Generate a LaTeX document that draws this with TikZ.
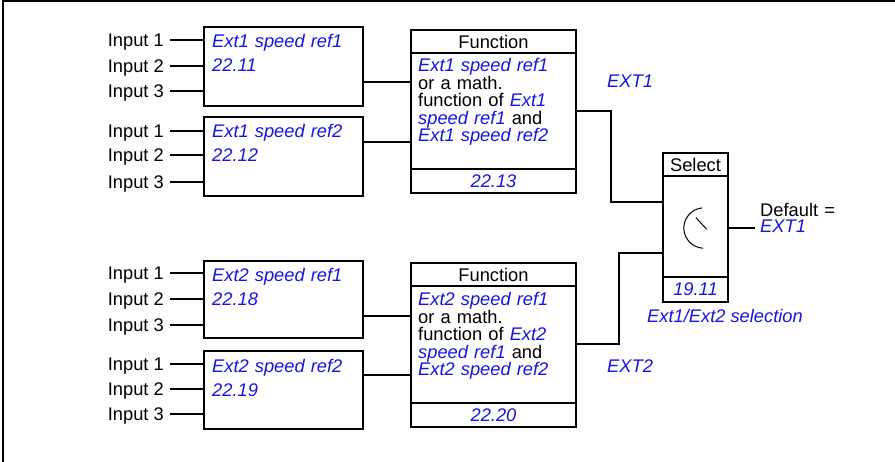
\documentclass[tikz,border=0pt]{standalone}
\usepackage{fontspec}
\setmainfont{Liberation Sans}
\definecolor{extblue}{RGB}{20,20,235}
\newcommand{\bluetxt}[1]{{\color{extblue}\itshape #1}}
\newcommand{\fs}{\fontsize{18.3}{22}\selectfont}
\begin{document}
\begin{tikzpicture}[x=1pt,y=-1pt,
  font=\fs,
  blk/.style={draw, line width=2pt, inner sep=0pt, minimum width=159pt},
  fblk/.style={draw, line width=2pt, inner sep=0pt, minimum width=165pt},
  sblk/.style={draw, line width=2pt, inner sep=0pt, minimum width=65pt},
  num/.style={text=extblue, font=\fs\itshape},
  wire/.style={line width=2pt},
  thinline/.style={line width=1pt},
  lbl/.style={anchor=east, inner xsep=6pt, inner ysep=0pt, text height=13pt, text depth=0pt},
  btxt/.style={anchor=base west, inner sep=0pt, text width=148pt, align=left, font=\fontsize{18.3}{24}\selectfont},
  ftxt/.style={anchor=base west, inner sep=0pt, text width=155pt, align=left, font=\fontsize{18.3}{17.4}\selectfont},
  tag/.style={anchor=base west, inner sep=0pt, text=extblue, font=\fs\itshape}]
\useasboundingbox (0,0) rectangle (895,462);
% frame
\draw[line width=1.3pt] (3,462) -- (3,1) -- (895,1);

% ---------- reference boxes ----------
\node[blk, minimum height=79pt] (b1) at (283.5,66.5) {};
\node[blk, minimum height=79pt] (b2) at (283.5,156.5) {};
\node[blk, minimum height=77pt] (b3) at (283.5,300) {};
\node[blk, minimum height=78pt] (b4) at (283.5,390) {};
\node[btxt] (t1) at (212,48) {\bluetxt{Ext1 speed ref1\\22.11}};
\node[btxt] (t2) at (212,138) {\bluetxt{Ext1 speed ref2\\22.12}};
\node[btxt] (t3) at (212,282) {\bluetxt{Ext2 speed ref1\\22.18}};
\node[btxt] (t4) at (212,373) {\bluetxt{Ext2 speed ref2\\22.19}};

% ---------- inputs ----------
\node[lbl] (i11) at (170,40) {Input 1};
\node[lbl] (i12) at (170,66) {Input 2};
\node[lbl] (i13) at (170,91) {Input 3};
\node[lbl] (i21) at (170,131) {Input 1};
\node[lbl] (i22) at (170,155) {Input 2};
\node[lbl] (i23) at (170,182) {Input 3};
\node[lbl] (i31) at (170,273) {Input 1};
\node[lbl] (i32) at (170,299) {Input 2};
\node[lbl] (i33) at (170,325) {Input 3};
\node[lbl] (i41) at (170,364) {Input 1};
\node[lbl] (i42) at (170,389) {Input 2};
\node[lbl] (i43) at (170,414) {Input 3};
\foreach \i/\b in {i11/b1,i12/b1,i13/b1,i21/b2,i22/b2,i23/b2,i31/b3,i32/b3,i33/b3,i41/b4,i42/b4,i43/b4}
  \draw[wire] (\i.east) -- (\i.east -| \b.west);

% ---------- function boxes ----------
\node[fblk, minimum height=23pt] (fh1) at (493.5,41.5) {Function};
\node[fblk, minimum height=116pt] (fb1) at (493.5,111) {};
\node[fblk, minimum height=24pt, num] (ff1) at (493.5,181) {22.13};
\node[ftxt] (ft1) at (418,72) {\bluetxt{Ext1 speed ref1}\\or a math.\\function of \bluetxt{Ext1}\\\bluetxt{speed ref1} and\\\bluetxt{Ext1 speed ref2}};

\node[fblk, minimum height=23pt] (fh2) at (493.5,274.5) {Function};
\node[fblk, minimum height=117pt] (fb2) at (493.5,344.5) {};
\node[fblk, minimum height=24pt, num] (ff2) at (493.5,415) {22.20};
\node[ftxt] (ft2) at (418,306) {\bluetxt{Ext2 speed ref1}\\or a math.\\function of \bluetxt{Ext2}\\\bluetxt{speed ref1} and\\\bluetxt{Ext2 speed ref2}};

\draw[wire] (b1.east |- 0,82) -- (fb1.west |- 0,82);
\draw[wire] (b2.east |- 0,142) -- (fb1.west |- 0,142);
\draw[wire] (b3.east |- 0,316) -- (fb2.west |- 0,316);
\draw[wire] (b4.east |- 0,375) -- (fb2.west |- 0,375);

% ---------- select ----------
\node[sblk, minimum height=23pt] (sh) at (695.5,164.5) {Select};
\node[sblk, minimum height=101pt] (sb) at (695.5,226.5) {};
\node[sblk, minimum height=25pt, num] (sf) at (695.5,289.5) {19.11};
\draw[thinline] (702.3,207.9) arc[start angle=265, end angle=93, radius=20.2];
\draw[thinline] (696,217.7) -- (706.7,229.3);

\draw[wire] (fb1.east) -- ++(34,0) |- (sb.west |- 0,202);
\draw[wire] (fb2.east) -- ++(42,0) |- (sb.west |- 0,253);

\coordinate (out) at (755,228);
\draw[wire] (sb.east |- out) -- (out);
\node[anchor=base west, inner sep=0pt, text width=80pt, align=left, font=\fontsize{18.3}{16}\selectfont] (def) at (760,217) {Default =\\\bluetxt{EXT1}};

\node[tag] (e1) at (607,88) {EXT1};
\node[tag] (e2) at (607,373) {EXT2};
\node[tag] (sel) at (647,323) {Ext1/Ext2 selection};
\end{tikzpicture}
\end{document}
